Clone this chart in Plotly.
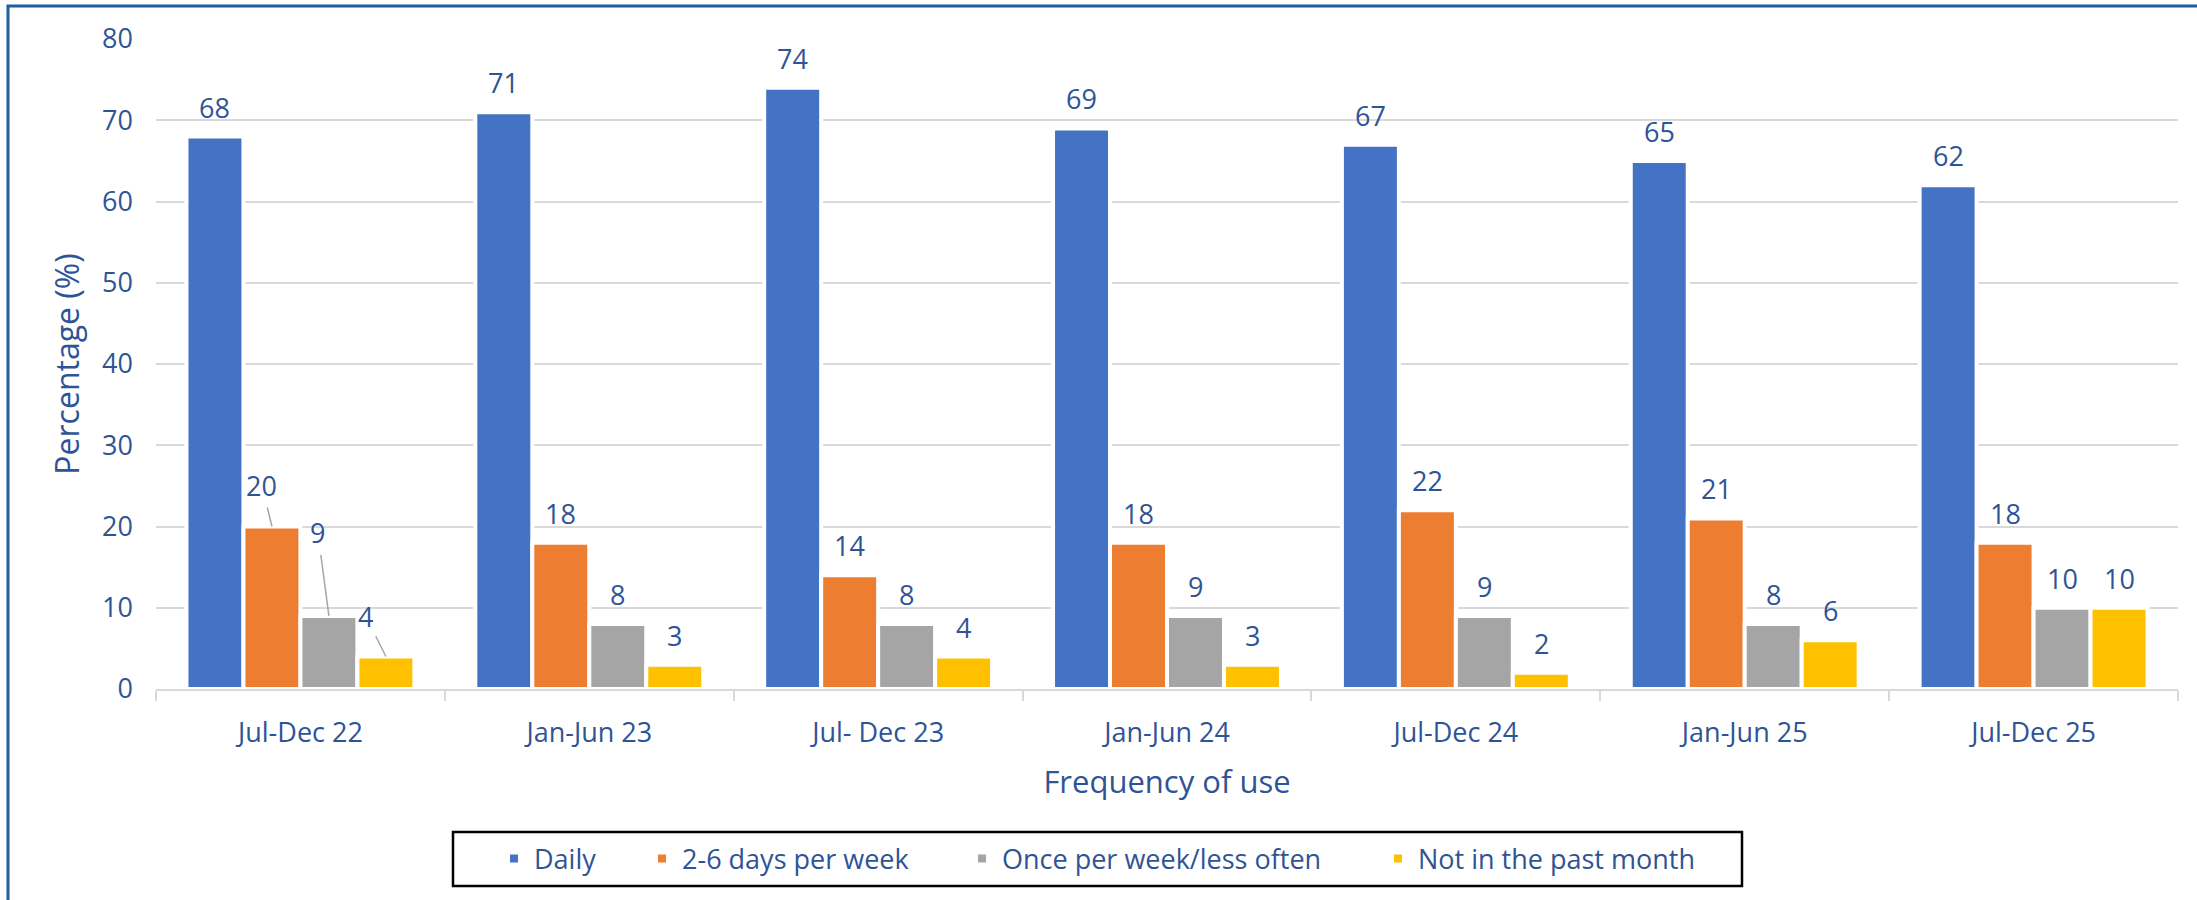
import plotly.graph_objects as go

# ---- data ----
categories = ["Jul-Dec 22", "Jan-Jun 23", "Jul- Dec 23", "Jan-Jun 24",
              "Jul-Dec 24", "Jan-Jun 25", "Jul-Dec 25"]
daily = [68, 71, 74, 69, 67, 65, 62]
days_2_6 = [20, 18, 14, 18, 22, 21, 18]
once_less = [9, 8, 8, 9, 9, 8, 10]
not_past_month = [4, 3, 4, 3, 2, 6, 10]
series_names = ["Daily", "2-6 days per week", "Once per week/less often", "Not in the past month"]
y_ticks = [0, 10, 20, 30, 40, 50, 60, 70, 80]

# ---- style ----
colors = ["#4472C4", "#ED7D31", "#A5A5A5", "#FFC000"]
TXT = "#2F5496"
FONT = "Open Sans"
W, H = 2197, 900
ML, MR, MT, MB = 156, 19, 39, 211
PW, PH = W - ML - MR, H - MT - MB
BARGAP = 0.211

def px_x(px):
    return (px - ML) / PW

def px_y(py):
    return (H - MB - py) / PH

all_series = [daily, days_2_6, once_less, not_past_month]

fig = go.Figure()
for i, (name, vals) in enumerate(zip(series_names, all_series)):
    fig.add_trace(go.Bar(
        x=categories, y=vals, name=name,
        marker=dict(color=colors[i], line=dict(color="white", width=4)),
        legend="legend" if i == 0 else f"legend{i+1}",
        hoverinfo="skip",
    ))

# ---- data labels ----
cat_px = PW / len(categories)
slot_px = cat_px * (1 - BARGAP) / len(all_series)
annotations = []
# first group labels carry leader lines (offsets in px: dx, dy of label from bar top)
leader = {1: (-10, -41), 2: (-11, -83), 3: (-20, -40)}
for i, vals in enumerate(all_series):
    xs = (i - (len(all_series) - 1) / 2) * slot_px
    for j, (c, v) in enumerate(zip(categories, vals)):
        if j == 0 and i in leader:
            ax, ay = leader[i]
            annotations.append(dict(
                x=c, y=v, xref="x", yref="y", xshift=xs, text=str(v),
                showarrow=True, arrowhead=0, arrowwidth=1.5, arrowcolor="#A6A6A6",
                ax=ax, ay=ay, standoff=0, startstandoff=2,
                font=dict(family=FONT, size=27, color=TXT)))
        else:
            annotations.append(dict(
                x=c, y=v, xref="x", yref="y", xshift=xs, yshift=9,
                text=str(v), showarrow=False, yanchor="bottom",
                font=dict(family=FONT, size=27, color=TXT)))

# ---- legends (one per series, placed in a shared box) ----
legend_text_start = [539, 687, 1007, 1423]
legend_cfg = {}
for i in range(4):
    key = "legend" if i == 0 else f"legend{i+1}"
    legend_cfg[key] = dict(
        orientation="h", x=px_x(legend_text_start[i] - 45), xanchor="left",
        y=px_y(859), yanchor="middle", bgcolor="rgba(0,0,0,0)", borderwidth=0,
        font=dict(family=FONT, size=27, color=TXT), itemclick=False,
        itemdoubleclick=False,
    )

shapes = [
    # legend box
    dict(type="rect", xref="paper", yref="paper",
         x0=px_x(453), x1=px_x(1742), y0=px_y(886), y1=px_y(832),
         line=dict(color="black", width=2.5), fillcolor="rgba(0,0,0,0)", layer="above"),
    # outer frame
    dict(type="rect", xref="paper", yref="paper",
         x0=px_x(8), x1=px_x(W + 10), y0=px_y(H + 10), y1=px_y(6),
         line=dict(color="#1F5F9F", width=3), fillcolor="rgba(0,0,0,0)", layer="above"),
]

fig.update_layout(
    width=W, height=H,
    margin=dict(l=ML, r=MR, t=MT, b=MB, autoexpand=False),
    paper_bgcolor="white", plot_bgcolor="white",
    barmode="group", bargap=BARGAP, bargroupgap=0,
    font=dict(family=FONT, size=27, color=TXT),
    annotations=annotations, shapes=shapes,
    showlegend=True,
    **legend_cfg,
)
fig.update_xaxes(
    type="category", showgrid=False, showline=True, linecolor="#D9D9D9", linewidth=1.5,
    ticks="outside", tickson="boundaries", ticklen=10, tickcolor="#D9D9D9", tickwidth=1.5,
    tickfont=dict(family=FONT, size=27, color=TXT), ticklabelstandoff=19,
    title=dict(text="Frequency of use", font=dict(family=FONT, size=31, color=TXT), standoff=22),
    automargin=False, fixedrange=True,
)
fig.update_yaxes(
    range=[0, 80], tickvals=y_ticks, showgrid=True, gridcolor="#D9D9D9", gridwidth=1.5,
    zeroline=False, showline=False, ticks="",
    tickfont=dict(family=FONT, size=27, color=TXT), ticklabelstandoff=22,
    title=dict(text="Percentage (%)", font=dict(family=FONT, size=32, color=TXT), standoff=12),
    automargin=False, fixedrange=True,
)

fig.write_html(
    "out.html",
    config={"displayModeBar": False},
    post_script="document.body.style.margin='0px';document.body.style.overflow='hidden';",
)
